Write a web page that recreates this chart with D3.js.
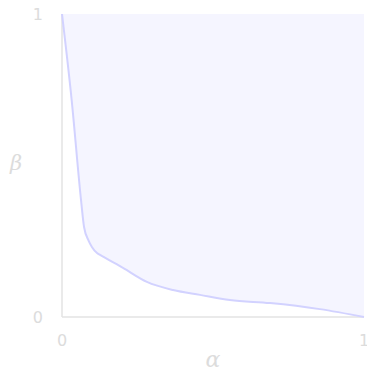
<!DOCTYPE html>
<html>
<head>
<meta charset="utf-8">
<script src="https://cdn.jsdelivr.net/npm/d3@7"></script>
<style>
  body { margin: 0; background: #fff; }
  text { font-family: "DejaVu Sans", sans-serif; fill: #dcdcdc; }
</style>
</head>
<body>
<svg id="chart" width="367" height="370"></svg>
<script>
// curve points (alpha, beta)
const alphaVals = [0, 0.032, 0.063, 0.073, 0.088, 0.099, 0.116, 0.126, 0.202, 0.281, 0.368, 0.457, 0.556, 0.689, 0.854, 1]
const betaVals  = [1, 0.716, 0.386, 0.297, 0.252, 0.231, 0.211, 0.205, 0.162, 0.116, 0.089, 0.073, 0.056, 0.046, 0.026, 0]
const xTicks = [0, 1]
const yTicks = [0, 1]

const points = alphaVals.map((a, i) => ({ a: a, b: betaVals[i] }))

const svg = d3.select("#chart")
const margin = { left: 62, right: 3, top: 14, bottom: 53 }
const width = 367 - margin.left - margin.right
const height = 370 - margin.top - margin.bottom

const x = d3.scaleLinear().domain([0, 1]).range([0, width])
const y = d3.scaleLinear().domain([0, 1]).range([height, 0])

const g = svg.append("g").attr("transform", "translate(" + margin.left + "," + margin.top + ")")

// shaded region above the curve
const area = d3.area()
    .x(d => x(d.a))
    .y0(y(1))
    .y1(d => y(d.b))
    .curve(d3.curveMonotoneX)

g.append("path")
    .datum(points)
    .attr("d", area)
    .attr("fill", "#f5f5ff")

// axes lines
g.append("line").attr("x1", 0).attr("x2", 0).attr("y1", 0).attr("y2", height)
    .attr("stroke", "#e3e3e3").attr("stroke-width", 1.5)
g.append("line").attr("x1", 0).attr("x2", width).attr("y1", height).attr("y2", height)
    .attr("stroke", "#e3e3e3").attr("stroke-width", 1.5)

const line = d3.line()
    .x(d => x(d.a))
    .y(d => y(d.b))
    .curve(d3.curveMonotoneX)

g.append("path")
    .datum(points)
    .attr("d", line)
    .attr("fill", "none")
    .attr("stroke", "#d2d2ff")
    .attr("stroke-width", 2)

// tick labels
g.selectAll(".ytick").data(yTicks).enter().append("text")
    .attr("x", -19)
    .attr("y", d => y(d))
    .attr("dy", "0.35em")
    .attr("text-anchor", "end")
    .attr("font-size", 16)
    .text(d => d)

g.selectAll(".xtick").data(xTicks).enter().append("text")
    .attr("x", d => x(d))
    .attr("y", height + 29)
    .attr("text-anchor", "middle")
    .attr("font-size", 16)
    .text(d => d)

// axis labels
g.append("text")
    .attr("x", width / 2)
    .attr("y", height + 50)
    .attr("text-anchor", "middle")
    .style("font-family", "'DejaVu Serif', serif")
    .style("font-style", "italic")
    .attr("font-size", 22)
    .text("α")

svg.append("text")
    .attr("x", 16)
    .attr("y", 170)
    .attr("text-anchor", "middle")
    .style("font-family", "'DejaVu Serif', serif")
    .style("font-style", "italic")
    .attr("font-size", 21)
    .text("β")
</script>
</body>
</html>
